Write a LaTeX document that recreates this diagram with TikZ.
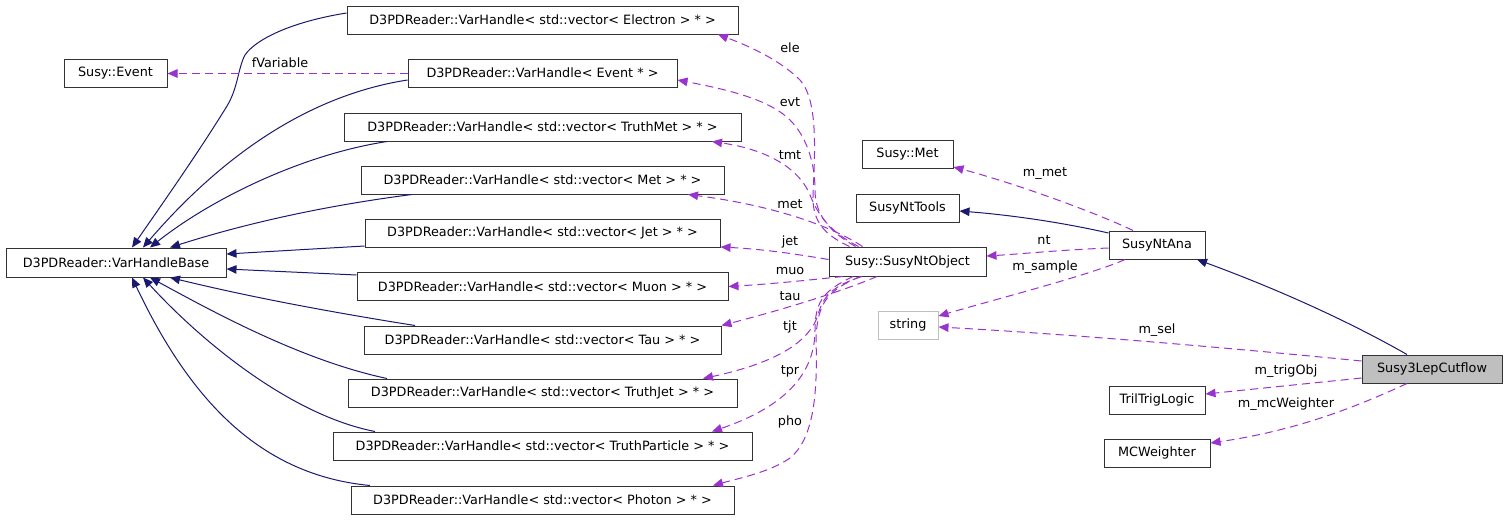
\documentclass[tikz,border=0pt]{standalone}
\usepackage{fontspec}
\setmainfont{DejaVu Sans}
\usetikzlibrary{arrows.meta,calc}
\definecolor{inhc}{HTML}{191970}
\definecolor{usec}{HTML}{9A32CD}
\definecolor{boxgray}{HTML}{BFBFBF}
\begin{document}
\begin{tikzpicture}[x=1pt,y=-1pt,
  every node/.style={font=\fontsize{12.8}{15}\selectfont},
  box/.style={draw=black!80, line width=1pt, inner sep=0pt, minimum height=28pt, anchor=center},
  inh/.style={draw=inhc, line width=1pt, -{Triangle[length=10pt,width=8.5pt]}},
  use/.style={draw=usec, line width=1pt, dash pattern=on 8pt off 5pt, -{Triangle[length=10pt,width=8.5pt]}},
  lbl/.style={inner sep=0pt, anchor=center}]
\useasboundingbox (0,0) rectangle (1507,520);
% nodes
\node[box, minimum width=220pt, minimum height=29pt] (vhb) at (116,262.5) {D3PDReader::VarHandleBase};
\node[box, minimum width=103pt] (sev) at (115.5,73) {Susy::Event};
\node[box, minimum width=391pt] (vE) at (542.5,20) {D3PDReader::VarHandle< std::vector< Electron > * >};
\node[box, minimum width=269pt] (vEv) at (542.5,73) {D3PDReader::VarHandle< Event * >};
\node[box, minimum width=397pt] (vTM) at (542.5,127) {D3PDReader::VarHandle< std::vector< TruthMet > * >};
\node[box, minimum width=363pt] (vM) at (542.5,180) {D3PDReader::VarHandle< std::vector< Met > * >};
\node[box, minimum width=355pt] (vJ) at (542.5,233) {D3PDReader::VarHandle< std::vector< Jet > * >};
\node[box, minimum width=371pt] (vMu) at (542.5,286.5) {D3PDReader::VarHandle< std::vector< Muon > * >};
\node[box, minimum width=357pt] (vTa) at (542.5,340) {D3PDReader::VarHandle< std::vector< Tau > * >};
\node[box, minimum width=389pt] (vTJ) at (542.5,393) {D3PDReader::VarHandle< std::vector< TruthJet > * >};
\node[box, minimum width=419pt] (vTP) at (542.5,446) {D3PDReader::VarHandle< std::vector< TruthParticle > * >};
\node[box, minimum width=383pt] (vPh) at (542.5,500) {D3PDReader::VarHandle< std::vector< Photon > * >};
\node[box, minimum width=157pt, minimum height=29pt] (obj) at (907.5,261.5) {Susy::SusyNtObject};
\node[box, minimum width=91pt] (smet) at (907.5,154.5) {Susy::Met};
\node[box, minimum width=103pt] (tools) at (907.5,208) {SusyNtTools};
\node[box, draw=boxgray, minimum width=60pt] (str) at (908,325) {string};
\node[box, minimum width=96pt] (ana) at (1157,245) {SusyNtAna};
\node[box, fill=boxgray, minimum width=140pt] (cut) at (1432,369) {Susy3LepCutflow};
\node[box, minimum width=96pt] (tril) at (1157,400) {TrilTrigLogic};
\node[box, minimum width=106pt] (mcw) at (1157,453) {MCWeighter};
% inheritance
\draw[inh] ($(vE.west)+(0,-7)$) .. controls (290,22) and (255,40) .. (245,55) .. controls (238,68) and (238,88) .. (227,106) .. controls (200,150) and (165,200) .. ($(vhb.north)+(16,0)$);
\draw[inh] ($(vEv.west)+(0,7)$) .. controls (330,92) and (240,135) .. ($(vhb.north)+(27,0)$);
\draw[inh] ($(vTM.south)+(-155.5,0)$) .. controls (300,155) and (210,200) .. ($(vhb.north)+(34,0)$);
\draw[inh] ($(vM.south)+(-130.5,0)$) .. controls (330,205) and (250,222) .. ($(vhb.north)+(54,0)$);
\draw[inh] ($(vJ.west)+(0,13)$) -- ($(vhb.east)+(0,-8.5)$);
\draw[inh] ($(vMu.west)+(0,-11.5)$) -- ($(vhb.east)+(0,6.5)$);
\draw[inh] ($(vTa.north)+(-127.5,0)$) .. controls (330,312) and (250,297) .. ($(vhb.south)+(54,0)$);
\draw[inh] ($(vTJ.north)+(-155.5,0)$) .. controls (300,360) and (210,310) .. ($(vhb.south)+(34,0)$);
\draw[inh] ($(vTP.north)+(-167.5,0)$) .. controls (290,415) and (200,340) .. ($(vhb.south)+(27,0)$);
\draw[inh] ($(vPh.north)+(-172.5,0)$) .. controls (260,475) and (190,400) .. ($(vhb.south)+(16,0)$);
\draw[inh] ($(ana.west)+(0,-12)$) .. controls (1060,222) and (1010,215) .. ($(tools.east)+(0,3)$);
\draw[inh] ($(cut.north)+(-25,0)$) .. controls (1350,322) and (1280,290) .. ($(ana.south)+(40,0)$);
% usage
\draw[use] ($(vEv.west)+(0,0.5)$) -- ($(sev.east)+(0,0.5)$);
\node[lbl] (lfv) at (280,63) {fVariable};
\draw[use] ($(obj.north)+(-58,0)$) .. controls (825,235) and (812,222) .. (813,195) .. controls (815,150) and (818,100) .. (800,80) .. controls (785,65) and (760,50) .. ($(vE.south)+(175.5,0)$);
\node[lbl] (lele) at (790,48) {ele};
\draw[use] ($(obj.north)+(-52,0)$) .. controls (830,232) and (815,215) .. (815,190) .. controls (815,160) and (805,135) .. (790,120) .. controls (770,100) and (730,90) .. ($(vEv.east)+(0,7)$);
\node[lbl] (levt) at (790,102) {evt};
\draw[use] ($(obj.north)+(-49,0)$) .. controls (830,232) and (818,215) .. (810,195) .. controls (800,170) and (770,150) .. ($(vTM.south)+(169.5,0)$);
\node[lbl] (ltmt) at (790,155) {tmt};
\draw[use] ($(obj.north)+(-45,0)$) .. controls (830,225) and (770,205) .. ($(vM.south)+(145.5,0)$);
\node[lbl] (lmet) at (790,204) {met};
\draw[use] ($(obj.west)+(0,-2)$) .. controls (790,253) and (760,249) .. ($(vJ.east)+(0,14)$);
\node[lbl] (ljet) at (790,242) {jet};
\draw[use] ($(obj.south)+(-64.5,0)$) .. controls (800,281) and (770,284) .. (vMu.east);
\node[lbl] (lmuo) at (790,271) {muo};
\draw[use] ($(obj.south)+(-30.5,0)$) .. controls (850,288) and (800,305) .. (vTa.north east);
\node[lbl] (ltau) at (790,296) {tau};
\draw[use] ($(obj.south)+(-45.5,0)$) .. controls (835,285) and (823,295) .. (818,315) .. controls (810,340) and (780,362) .. ($(vTJ.north)+(160.5,0)$);
\node[lbl] (ltjt) at (790,327) {tjt};
\draw[use] ($(obj.south)+(-54.5,0)$) .. controls (825,290) and (815,300) .. (815,330) .. controls (815,370) and (790,405) .. ($(vTP.north)+(169.5,0)$);
\node[lbl] (ltpr) at (790,371) {tpr};
\draw[use] ($(obj.south)+(-47.5,0)$) .. controls (830,290) and (817,300) .. (816,340) .. controls (818,400) and (812,440) .. (790,458) .. controls (770,472) and (740,478) .. ($(vPh.north)+(170.5,0)$);
\node[lbl] (lpho) at (790,422) {pho};
\draw[use] ($(ana.west)+(0,3)$) .. controls (1060,250) and (1020,254) .. ($(obj.east)+(0,-5.5)$);
\node[lbl] (lnt) at (1044,240) {nt};
\draw[use] ($(ana.north)+(-24,0)$) .. controls (1090,210) and (1010,182) .. ($(smet.east)+(0,12.5)$);
\node[lbl] (lmmet) at (1045,174) {m\_met};
\draw[use] ($(ana.south)+(-32,0)$) .. controls (1090,275) and (1000,298) .. ($(str.east)+(0,-9)$);
\node[lbl] (lms) at (1045,267) {m\_sample};
\draw[use] ($(cut.west)+(0,-8)$) .. controls (1200,345) and (1050,333) .. ($(str.east)+(0,2)$);
\node[lbl] (lsel) at (1157,330) {m\_sel};
\draw[use] ($(cut.west)+(0,9)$) -- ($(tril.east)+(0,-6)$);
\node[lbl] (ltrig) at (1286,371) {m\_trigObj};
\draw[use] ($(cut.south)+(-25,0)$) .. controls (1360,405) and (1300,430) .. ($(mcw.east)+(0,-10)$);
\node[lbl] (lmcw) at (1286,404) {m\_mcWeighter};
\end{tikzpicture}
\end{document}
